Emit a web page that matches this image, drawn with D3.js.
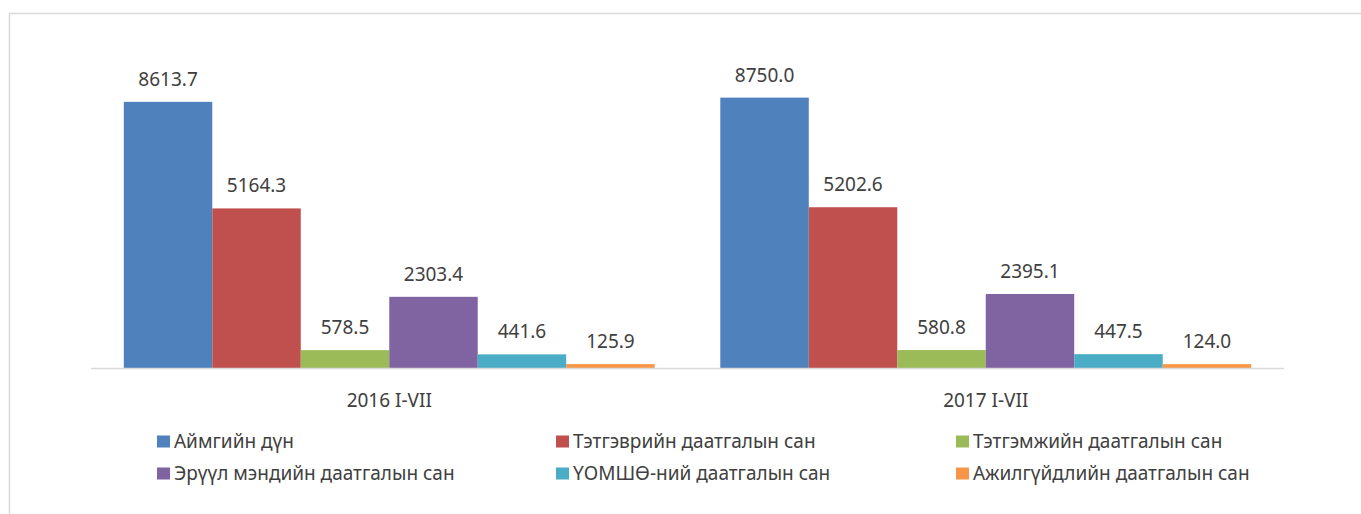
<!DOCTYPE html>
<html><head><meta charset="utf-8">
<script src="https://cdn.jsdelivr.net/npm/d3@7"></script>
<style>body{margin:0;background:#fff;}svg{display:block;font-family:"Noto Sans",sans-serif;}</style>
</head><body><svg id="c" width="1361" height="514"></svg>
<script>
const categories = ["2016 I-VII", "2017 I-VII"];
const seriesNames = ["Аймгийн дүн", "Тэтгэврийн даатгалын сан", "Тэтгэмжийн даатгалын сан", "Эрүүл мэндийн даатгалын сан", "ҮОМШӨ-ний даатгалын сан", "Ажилгүйдлийн даатгалын сан"];
const values2016 = [8613.7, 5164.3, 578.5, 2303.4, 441.6, 125.9];
const values2017 = [8750.0, 5202.6, 580.8, 2395.1, 447.5, 124.0];
const colors = ["#4f81bd", "#c0504d", "#9bbb59", "#8064a2", "#4bacc6", "#f79646"];

const svg = d3.select("#c");
svg.append("path").attr("d","M9.5,514 V13.5 H1361").attr("fill","none").attr("stroke","#d9d9d9").attr("stroke-width",1.5);

const pLeft = 91, pRight = 1284, pBase = 368, pTop = 59;
const x0 = d3.scaleBand().domain(categories).range([pLeft, pRight]).paddingInner(0.11).paddingOuter(0.055);
const x1 = d3.scaleBand().domain(seriesNames).range([0, x0.bandwidth()]);
const y = d3.scaleLinear().domain([0, 10000]).range([pBase, pTop]);
const data = [values2016, values2017];
const fs = 19;

categories.forEach((c, ci) => {
  const g = svg.append("g").attr("transform", `translate(${x0(c)},0)`);
  seriesNames.forEach((s, si) => {
    const v = data[ci][si];
    g.append("rect").attr("x", x1(s)).attr("y", y(v)).attr("width", x1.bandwidth()).attr("height", pBase - y(v)).attr("fill", colors[si]);
    g.append("text").attr("x", x1(s) + x1.bandwidth()/2).attr("y", y(v) - 16).attr("text-anchor","middle")
      .attr("font-size", fs).attr("fill","#404040").text(v.toFixed(1));
  });
});
svg.append("line").attr("x1", pLeft).attr("x2", pRight).attr("y1", pBase+0.5).attr("y2", pBase+0.5).attr("stroke","#d9d9d9").attr("stroke-width",1.5);
const xAxis = svg.append("g").attr("transform",`translate(0,${pBase})`).call(d3.axisBottom(x0).tickSize(0));
xAxis.select(".domain").remove();
xAxis.selectAll("text").attr("y", 39).attr("dy", 0).attr("font-size",fs).attr("fill","#404040").attr("font-family","'Noto Sans',sans-serif");

const legX = [157, 556, 956], legY = [441.5, 473.5];
seriesNames.forEach((s, i) => {
  const lx = legX[i % 3], ly = legY[Math.floor(i / 3)];
  svg.append("rect").attr("x", lx).attr("y", ly - 6).attr("width", 13).attr("height", 12).attr("fill", colors[i]);
  svg.append("text").attr("x", lx + 17).attr("y", ly).attr("dy","0.35em").attr("font-size", fs).attr("fill","#404040").text(s);
});
</script></body></html>
